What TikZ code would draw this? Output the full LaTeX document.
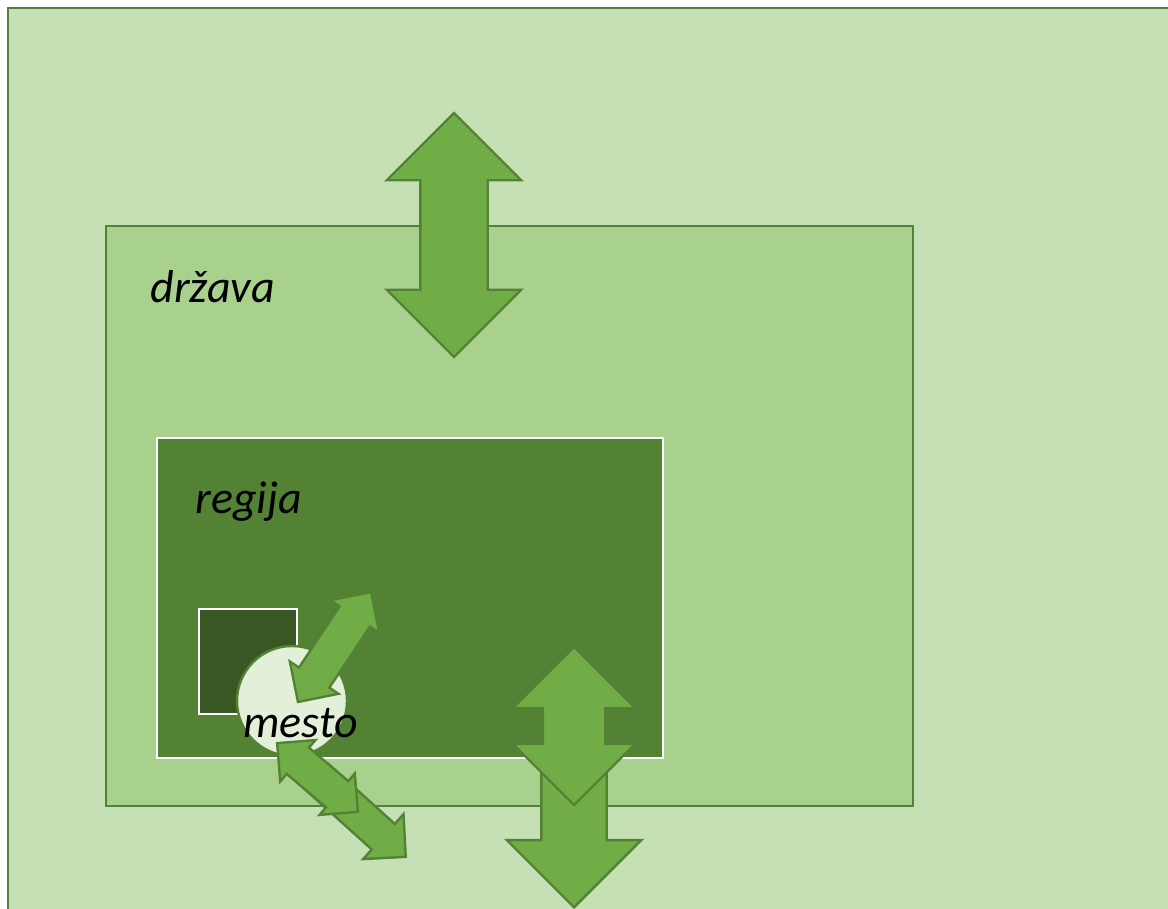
\documentclass[tikz,border=0pt]{standalone}
\usepackage{fontspec}
\setmainfont{Carlito}
\usepackage{tikz}
\usetikzlibrary{shapes.geometric, shapes.arrows, positioning}
\definecolor{okvir}{HTML}{548235}
\definecolor{okolje}{HTML}{C5E0B4}
\definecolor{drzavabarva}{HTML}{A9D18E}
\definecolor{regijabarva}{HTML}{548235}
\definecolor{naseljebarva}{HTML}{385723}
\definecolor{mestobarva}{HTML}{E2F0D9}
\definecolor{zelena}{HTML}{70AD47}
\tikzstyle{plast} = [rectangle, draw=okvir, line width=1.2pt, inner sep=0pt]
\tikzstyle{puscica} = [draw=okvir, fill=zelena, line width=1.2pt, inner xsep=0pt, minimum width=0pt, text height=0pt, text depth=0pt]
\tikzstyle{oznaka} = [font=\fontsize{23}{28}\selectfont\itshape, inner sep=0pt, anchor=base west]

\begin{document}
\begin{tikzpicture}[x=0.5pt, y=-0.5pt]
	\clip (0,0) rectangle (1168,909);
	\fill[white] (0,0) rectangle (1168,909);
	% nivoji
	\node[plast, fill=okolje, minimum width=586pt, minimum height=456pt] (svet) at (594,464) {};
	\node[plast, fill=drzavabarva, minimum width=403.5pt, minimum height=290pt] (drzava) at (509.5,516) {};
	\node[oznaka] (drzavaoznaka) at (150,303) {država};
	\node[puscica, double arrow, rotate=90, minimum height=122pt, inner ysep=16.25pt, double arrow head extend=16.75pt] (gor) at (454,235) {};
	\node[plast, draw=white, fill=regijabarva, minimum width=253pt, minimum height=160pt] (regija) at (410,598) {};
	\node[oznaka] (regijaoznaka) at (195,513) {regija};
	\node[plast, draw=white, fill=naseljebarva, minimum width=49pt, minimum height=52.5pt] (naselje) at (248,661.5) {};
	\node[circle, draw=okvir, line width=1.2pt, fill=mestobarva, minimum size=55pt, inner sep=0pt] (mesto) at (292,701) {};
	\node[puscica, double arrow, rotate=56.4, minimum height=66pt, inner ysep=8.5pt, double arrow head extend=5.5pt] (notri) at (334.5,647) {};
	\node[oznaka] (mestooznaka) at (243,737) {mesto};
	% navzven
	\node[puscica, single arrow, rotate=-42, anchor=tip, minimum height=60.2pt, inner ysep=8pt, single arrow head extend=6.5pt] (ven2) at (407,858) {};
	\node[puscica, double arrow, rotate=-40.4, minimum height=53pt, inner ysep=8pt, double arrow head extend=5pt] (ven1) at (317.5,777.5) {};
	\node[puscica, single arrow, rotate=-90, anchor=tip, minimum height=72pt, inner ysep=15.75pt, single arrow head extend=17.25pt] (dol2) at (574,909) {};
	\node[puscica, double arrow, rotate=90, minimum height=79pt, inner ysep=15pt, double arrow head extend=15pt] (dol1) at (574,726) {};
\end{tikzpicture}
\end{document}
